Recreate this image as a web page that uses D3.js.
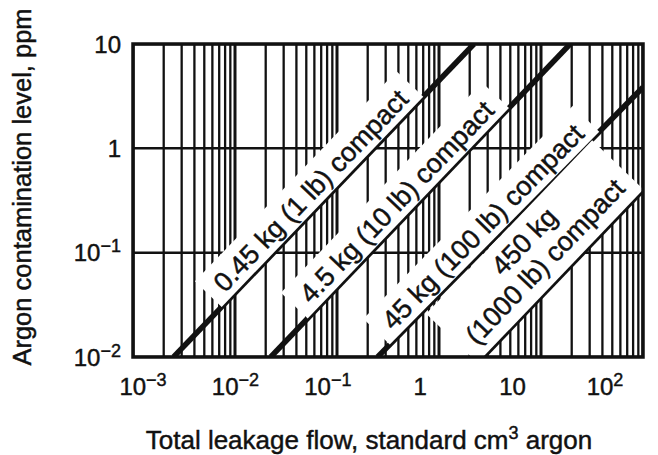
<!DOCTYPE html>
<html><head><meta charset="utf-8">
<script src="https://cdn.jsdelivr.net/npm/d3@7"></script>
<style>
body{margin:0;background:#fff;}
svg text{font-family:"Liberation Sans",Arial,Helvetica,sans-serif;fill:#111;stroke:#111;stroke-width:0.45px;}
</style></head><body>
<svg id="chart" width="658" height="455"></svg>
<script>
// ---------- data ----------
const xDomain = [1e-3, 1e2];
const yDomain = [1e-2, 10];
const xTickValues = [1e-3, 1e-2, 1e-1, 1, 10, 100];
const xTickBase = ["10", "10", "10", "1", "10", "10"];
const xTickExp = ["\u22123", "\u22122", "\u22121", "", "", "2"];
const yTickValues = [10, 1, 0.1, 0.01];
const yTickBase = ["10", "1", "10", "10"];
const yTickExp = ["", "", "\u22121", "\u22122"];
const compactNames = ["0.45 kg (1 lb)", "4.5 kg (10 lb)", "45 kg (100 lb)", "450 kg (1000 lb)"];
const lineStart = [[0.0025, 0.01], [0.0224, 0.01], [0.25, 0.01], [2.7, 0.01]];
const lineEnd = [[2.2, 10], [19.3, 10], [100, 3.85], [100, 0.40]];
const labelAt = [0.072, 0.50, 3.5, 15.5];
const labelLines = [["0.45 kg (1 lb) compact"], ["4.5 kg (10 lb) compact"], ["45 kg (100 lb) compact"], ["450 kg", "(1000 lb) compact"]];
const xTitle = ["Total leakage flow, standard cm", "3", " argon"];
const yTitle = "Argon contamination level, ppm";

// ---------- layout ----------
const L = 133, R = 643, T = 44, B = 357;
const svg = d3.select("#chart");
const x = d3.scaleLog().domain(xDomain).range([L, R]);
const y = d3.scaleLog().domain(yDomain).range([B, T]);
const xLab = d3.scaleLog().domain(xDomain).range([L + 10, R - 38]);

svg.append("defs").append("clipPath").attr("id", "plotclip")
  .append("rect").attr("x", L).attr("y", T).attr("width", R - L).attr("height", B - T);

const plot = svg.append("g").attr("clip-path", "url(#plotclip)");

// vertical grid (all 1..9 multiples)
const isDecade = v => Math.abs(Math.log10(v) - Math.round(Math.log10(v))) < 1e-9;
plot.append("g").selectAll("line").data(x.ticks()).join("line")
  .attr("x1", d => x(d)).attr("x2", d => x(d))
  .attr("y1", T).attr("y2", B)
  .attr("stroke", "#111").attr("stroke-width", d => isDecade(d) ? 3 : 2.3);

// horizontal grid (decades only)
plot.append("g").selectAll("line").data(y.ticks().filter(isDecade)).join("line")
  .attr("x1", L).attr("x2", R)
  .attr("y1", d => y(d)).attr("y2", d => y(d))
  .attr("stroke", "#111").attr("stroke-width", 2.5);

// helpers
function yOnLine(i, xv) {
  const [x0, y0] = lineStart[i], [x1, y1] = lineEnd[i];
  const t = (Math.log10(xv) - Math.log10(x0)) / (Math.log10(x1) - Math.log10(x0));
  return Math.pow(10, Math.log10(y0) + t * (Math.log10(y1) - Math.log10(y0)));
}

// label groups
const labelGroups = [];
compactNames.forEach((name, i) => {
  const a = Math.atan2(y(lineEnd[i][1]) - y(lineStart[i][1]), x(lineEnd[i][0]) - x(lineStart[i][0])) * 180 / Math.PI;
  const px = x(labelAt[i]), py = y(yOnLine(i, labelAt[i]));
  const g = plot.append("g").attr("transform", `translate(${px},${py}) rotate(${a})`);
  labelGroups.push(g);
});

const fontSize = 27;
labelGroups.forEach((g, i) => {
  const lines = labelLines[i];
  const n = lines.length;
  const baseOff = n > 1 ? 12 : 7;
  const gap = 29;
  const band = g.append("rect").attr("fill", "#fff");
  const texts = lines.map((s, j) => g.append("text")
    .attr("x", 0).attr("y", -(baseOff + (n - 1 - j) * gap))
    .attr("text-anchor", "middle").attr("font-size", fontSize)
    .text(s));
  const maxLen = d3.max(texts, t => t.node().getComputedTextLength());
  const top = baseOff + (n - 1) * gap + 21 + 9;
  band.attr("x", -maxLen / 2 - 12).attr("width", maxLen + 24)
      .attr("y", -top).attr("height", top);
});

// diagonal lines
const lineG = plot.append("g");
compactNames.forEach((name, i) => {
  lineG.append("line")
    .attr("x1", x(lineStart[i][0])).attr("y1", y(lineStart[i][1]))
    .attr("x2", x(lineEnd[i][0])).attr("y2", y(lineEnd[i][1]))
    .attr("stroke", "#111").attr("stroke-width", 5.5);
});
labelGroups.forEach(g => g.raise());

// frame
svg.append("rect").attr("x", L).attr("y", T).attr("width", R - L).attr("height", B - T)
  .attr("fill", "none").attr("stroke", "#111").attr("stroke-width", 3.5);

// x tick labels
const xt = svg.append("g").selectAll("text").data(xTickValues).join("text")
  .attr("x", d => xLab(d)).attr("y", B + 38)
  .attr("text-anchor", "middle").attr("font-size", 24);
xt.append("tspan").text((d, i) => xTickBase[i]);
xt.append("tspan").attr("font-size", 18).attr("dy", -9).text((d, i) => xTickExp[i]);

// y tick labels
const yt = svg.append("g").selectAll("text").data(yTickValues).join("text")
  .attr("x", L - 12).attr("y", d => y(d) + 8.5)
  .attr("text-anchor", "end").attr("font-size", 24);
yt.append("tspan").text((d, i) => yTickBase[i]);
yt.append("tspan").attr("font-size", 18).attr("dy", -9).text((d, i) => yTickExp[i]);

// axis titles
const xtT = svg.append("text").attr("x", 369).attr("y", 449)
  .attr("text-anchor", "middle").attr("font-size", 26);
xtT.append("tspan").text(xTitle[0]);
xtT.append("tspan").attr("font-size", 18).attr("dy", -10).text(xTitle[1]);
xtT.append("tspan").attr("dy", 10).text(xTitle[2]);

svg.append("text").attr("transform", `translate(31,187) rotate(-90)`)
  .attr("text-anchor", "middle").attr("font-size", 25.5).text(yTitle);
</script>
</body></html>
